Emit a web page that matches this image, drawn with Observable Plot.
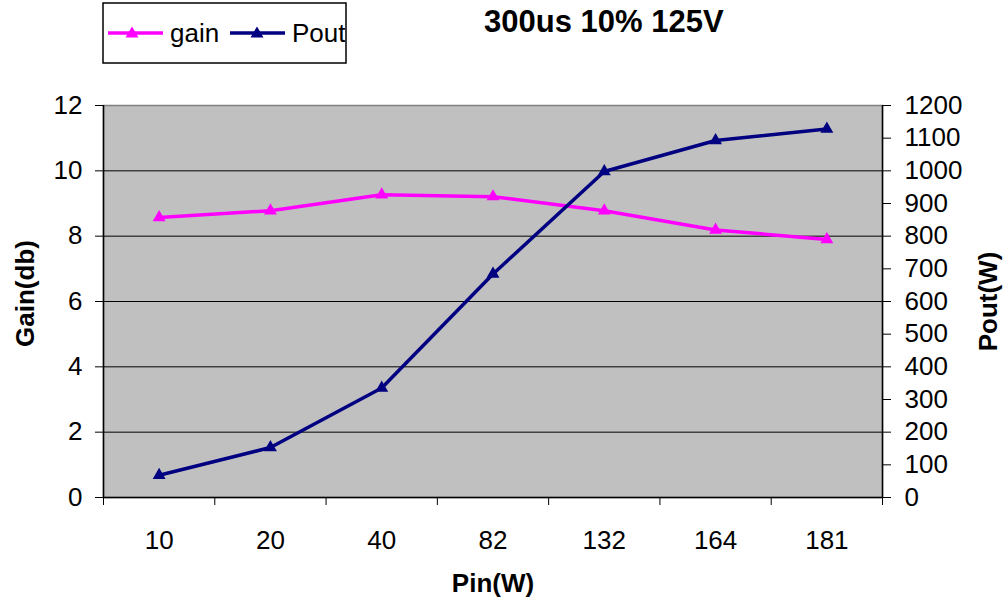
<!DOCTYPE html>
<html>
<head>
<meta charset="utf-8">
<script src="https://cdn.jsdelivr.net/npm/d3@7"></script>
<script src="https://cdn.jsdelivr.net/npm/@observablehq/plot@0.6"></script>
<style>
  body { margin: 0; background: #fff; font-family: "Liberation Sans", Arial, sans-serif; }
  #wrap { position: relative; width: 1008px; height: 602px; overflow: hidden; }
  #title { position: absolute; left: 484px; top: 6px; font-size: 31px; line-height: 1; font-weight: bold; white-space: nowrap; }
  #legend { position: absolute; left: 102px; top: 2px; }
  #chart { position: absolute; left: 0; top: 0; }
</style>
</head>
<body>
<div id="wrap">
  <div id="chart"></div>
  <div id="title">300us 10% 125V</div>
  <svg id="legend" width="246" height="63" font-family="Liberation Sans, Arial, sans-serif" font-size="26">
    <defs><clipPath id="lc"><rect x="1.5" y="1.5" width="242" height="59"/></clipPath></defs>
    <rect x="1" y="1" width="243" height="60" fill="#fff" stroke="#000" stroke-width="1.5"/>
    <g clip-path="url(#lc)">
      <line x1="6" x2="61" y1="31" y2="31" stroke="#ff00ff" stroke-width="3.5"/>
      <path d="M30,24.5 L36.5,35.5 L23.5,35.5 Z" fill="#ff00ff"/>
      <text x="68" y="40">gain</text>
      <line x1="128" x2="183" y1="31" y2="31" stroke="#000080" stroke-width="3.5"/>
      <path d="M155,24.5 L161.5,35.5 L148.5,35.5 Z" fill="#000080"/>
      <text x="190" y="40">Pout</text>
    </g>
  </svg>
</div>
<script>
const pin = ["10", "20", "40", "82", "132", "164", "181"];
const gainDb = [8.57, 8.78, 9.27, 9.21, 8.78, 8.19, 7.90];
const poutW = [68, 153, 335, 684, 998, 1093, 1128];
const gainTicks = [0, 2, 4, 6, 8, 10, 12];
const poutTicks = [0, 100, 200, 300, 400, 500, 600, 700, 800, 900, 1000, 1100, 1200];

const gainMax = 12, poutMax = 1200;
const k = gainMax / poutMax;
const rows = pin.map((p, i) => ({i, pin: p, gain: gainDb[i], pout: poutW[i]}));
const idx = pin.map((_, i) => i);
const bounds = pin.map((_, i) => i - 0.5).concat([pin.length - 0.5]);

const chart = Plot.plot({
  width: 1008,
  height: 602,
  marginTop: 105,
  marginBottom: 105,
  marginLeft: 103,
  marginRight: 126,
  style: {fontFamily: "Liberation Sans, Arial, sans-serif", fontSize: "26px", color: "#000", background: "transparent", overflow: "visible"},
  x: {type: "linear", domain: [-0.5, pin.length - 0.5]},
  y: {domain: [0, gainMax]},
  marks: [
    Plot.frame({fill: "#c0c0c0", stroke: "#808080", strokeWidth: 1.5}),
    Plot.gridY(gainTicks.filter(v => v > 0 && v < gainMax), {stroke: "#000", strokeOpacity: 1, strokeWidth: 1}),
    Plot.ruleX([-0.5, pin.length - 0.5], {stroke: "#000", strokeWidth: 1.5}),
    Plot.ruleY([0], {stroke: "#000", strokeWidth: 1.5}),
    Plot.axisY(gainTicks, {anchor: "left", tickSize: 8, tickPadding: 13, label: null}),
    Plot.axisY(poutTicks.map(v => v * k), {anchor: "right", tickSize: 8, tickPadding: 14, tickFormat: v => String(Math.round(v / k)), label: null}),
    Plot.axisX(bounds, {tickSize: 8, tickFormat: () => "", label: null}),
    Plot.axisX(idx, {tickSize: 0, tickPadding: 33, tickFormat: i => pin[i], label: null}),
    Plot.line(rows, {x: "i", y: "gain", stroke: "#ff00ff", strokeWidth: 3.5}),
    Plot.line(rows, {x: "i", y: d => d.pout * k, stroke: "#000080", strokeWidth: 3.5}),
    Plot.dot(rows, {x: "i", y: "gain", symbol: "triangle", r: 4.8, fill: "#ff00ff"}),
    Plot.dot(rows, {x: "i", y: d => d.pout * k, symbol: "triangle", r: 4.8, fill: "#000080"}),
    Plot.text(["Gain(db)"], {frameAnchor: "left", textAnchor: "middle", lineAnchor: "middle", dx: -78, dy: -8, rotate: -90, fontWeight: "bold"}),
    Plot.text(["Pout(W)"], {frameAnchor: "right", textAnchor: "middle", lineAnchor: "middle", dx: 106, dy: 0, rotate: -90, fontWeight: "bold"}),
    Plot.text(["Pin(W)"], {frameAnchor: "bottom", dy: 94, fontWeight: "bold"})
  ]
});
document.getElementById("chart").appendChild(chart);
</script>
</body>
</html>
